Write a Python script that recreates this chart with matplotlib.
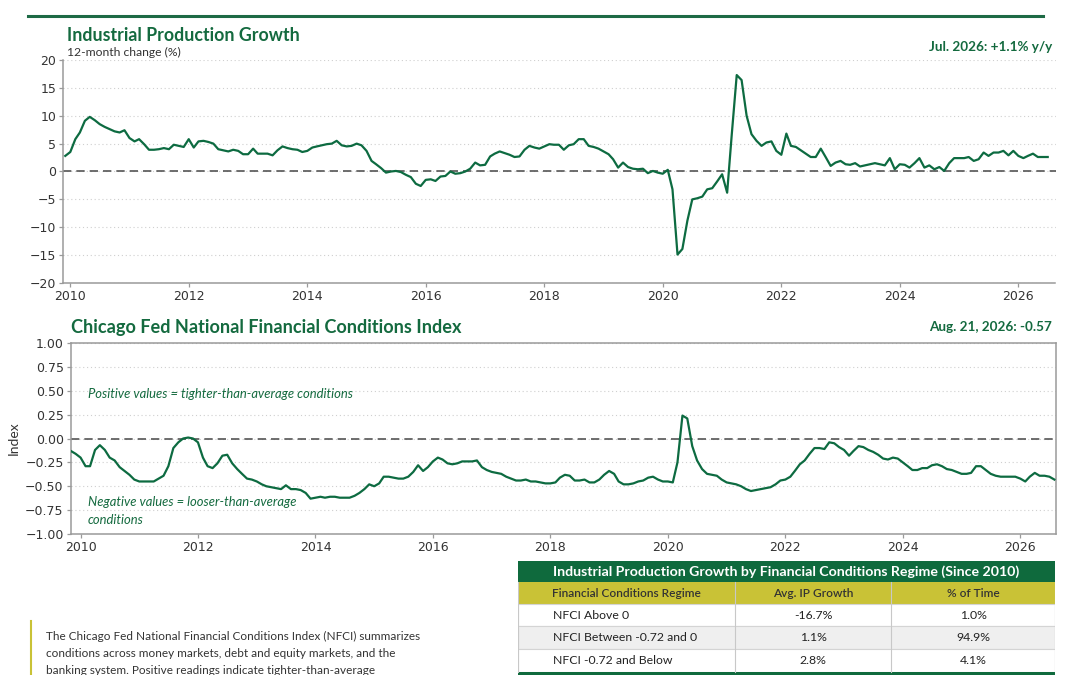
import numpy as np
import pandas as pd
import matplotlib
matplotlib.use("Agg")
import matplotlib.pyplot as plt
import matplotlib.dates as mdates
from matplotlib.lines import Line2D
from matplotlib.patches import Rectangle

# ---- data ----
# Industrial production, 12-month % change, monthly from Dec 2009
ip_start = "2009-12-01"
ip_values = [
    2.8,
    3.5, 5.8, 7.0, 9.1, 9.8, 9.2, 8.5, 8.0, 7.6, 7.2, 7.0, 7.4,            # 2010
    6.0, 5.4, 5.8, 4.9, 3.9, 3.9, 4.0, 4.2, 4.0, 4.8, 4.6, 4.4,            # 2011
    5.8, 4.3, 5.4, 5.5, 5.3, 5.0, 4.0, 3.8, 3.6, 3.9, 3.7, 3.1,            # 2012
    3.1, 4.1, 3.2, 3.2, 3.2, 2.9, 3.8, 4.5, 4.2, 4.0, 3.9, 3.5,            # 2013
    3.7, 4.3, 4.5, 4.7, 4.9, 5.0, 5.5, 4.7, 4.5, 4.6, 5.0, 4.7,            # 2014
    3.7, 1.9, 1.3, 0.6, -0.2, 0.0, 0.1, -0.1, -0.6, -1.0, -2.2, -2.6,      # 2015
    -1.5, -1.4, -1.7, -0.9, -0.8, 0.0, -0.4, -0.3, 0.0, 0.5, 1.6, 1.1,     # 2016
    1.2, 2.7, 3.2, 3.6, 3.3, 3.0, 2.6, 2.7, 3.9, 4.6, 4.3, 4.1,            # 2017
    4.5, 4.9, 4.8, 4.8, 3.9, 4.7, 4.9, 5.8, 5.8, 4.6, 4.4, 4.1,            # 2018
    3.6, 3.1, 2.2, 0.7, 1.6, 0.8, 0.5, 0.4, 0.5, -0.3, 0.1, -0.2,          # 2019
    -0.4, 0.3, -3.2, -14.9, -13.9, -8.8, -5.0, -4.8, -4.5, -3.2, -3.0, -1.8,  # 2020
    -0.5, -3.8, 6.5, 17.3, 16.4, 10.0, 6.7, 5.5, 4.6, 5.2, 5.4, 3.7,       # 2021
    3.0, 6.8, 4.6, 4.4, 3.8, 3.2, 2.6, 2.6, 4.1, 2.6, 1.0, 1.6,            # 2022
    1.9, 1.3, 1.2, 1.5, 0.9, 1.1, 1.3, 1.5, 1.3, 1.1, 2.4, 0.4,            # 2023
    1.3, 1.2, 0.7, 1.5, 2.4, 0.7, 1.1, 0.4, 0.8, 0.1, 1.5, 2.4,            # 2024
    2.4, 2.4, 2.6, 1.9, 2.2, 3.4, 2.8, 3.4, 3.4, 3.7, 2.9, 3.7,            # 2025
    2.8, 2.4, 2.8, 3.2, 2.6, 2.6, 2.6,                                     # 2026
]

# Chicago Fed NFCI, sampled monthly from Nov 2009
nfci_start = "2009-11-01"
nfci_values = [
    -0.13, -0.16,
    -0.20, -0.29, -0.29, -0.12, -0.07, -0.12, -0.20, -0.23, -0.30, -0.34, -0.38, -0.43,  # 2010
    -0.45, -0.45, -0.45, -0.45, -0.42, -0.39, -0.29, -0.10, -0.04, 0.00, 0.01, 0.00,     # 2011
    -0.04, -0.20, -0.29, -0.31, -0.26, -0.18, -0.17, -0.26, -0.32, -0.37, -0.42, -0.43,  # 2012
    -0.45, -0.48, -0.50, -0.51, -0.52, -0.53, -0.49, -0.53, -0.53, -0.54, -0.57, -0.63,  # 2013
    -0.62, -0.61, -0.62, -0.61, -0.61, -0.62, -0.62, -0.62, -0.60, -0.57, -0.53, -0.48,  # 2014
    -0.50, -0.47, -0.40, -0.40, -0.41, -0.42, -0.42, -0.40, -0.35, -0.28, -0.34, -0.30,  # 2015
    -0.24, -0.20, -0.22, -0.26, -0.27, -0.26, -0.24, -0.24, -0.24, -0.23, -0.30, -0.33,  # 2016
    -0.35, -0.36, -0.37, -0.40, -0.42, -0.44, -0.44, -0.43, -0.45, -0.45, -0.46, -0.47,  # 2017
    -0.47, -0.46, -0.41, -0.38, -0.39, -0.44, -0.44, -0.43, -0.46, -0.46, -0.43, -0.38,  # 2018
    -0.34, -0.37, -0.45, -0.48, -0.48, -0.47, -0.45, -0.44, -0.41, -0.40, -0.43, -0.45,  # 2019
    -0.45, -0.46, -0.25, 0.24, 0.21, -0.08, -0.23, -0.32, -0.37, -0.38, -0.39, -0.43,    # 2020
    -0.46, -0.47, -0.48, -0.50, -0.53, -0.55, -0.54, -0.53, -0.52, -0.51, -0.48, -0.44,  # 2021
    -0.43, -0.40, -0.34, -0.27, -0.23, -0.16, -0.10, -0.10, -0.11, -0.04, -0.05, -0.09,  # 2022
    -0.12, -0.18, -0.13, -0.08, -0.09, -0.12, -0.14, -0.17, -0.21, -0.22, -0.20, -0.21,  # 2023
    -0.25, -0.29, -0.33, -0.33, -0.31, -0.31, -0.28, -0.27, -0.29, -0.32, -0.33, -0.35,  # 2024
    -0.37, -0.37, -0.36, -0.29, -0.29, -0.33, -0.37, -0.39, -0.40, -0.40, -0.40, -0.40,  # 2025
    -0.42, -0.45, -0.40, -0.36, -0.39, -0.39, -0.40, -0.43,                              # 2026
]

ip_ticks = [-20, -15, -10, -5, 0, 5, 10, 15, 20]
nfci_ticks = [-1.0, -0.75, -0.5, -0.25, 0.0, 0.25, 0.5, 0.75, 1.0]
year_ticks = [str(y) for y in range(2010, 2027, 2)]

table_title = "Industrial Production Growth by Financial Conditions Regime (Since 2010)"
table_cols = ["Financial Conditions Regime", "Avg. IP Growth", "% of Time"]
table_regimes = ["NFCI Above 0", "NFCI Between -0.72 and 0", "NFCI -0.72 and Below"]
table_growth = ["-16.7%", "1.1%", "2.8%"]
table_share = ["1.0%", "94.9%", "4.1%"]

note_lines = [
    "The Chicago Fed National Financial Conditions Index (NFCI) summarizes",
    "conditions across money markets, debt and equity markets, and the",
    "banking system. Positive readings indicate tighter-than-average",
]

# ---- style ----
GREEN = "#0d6b41"
TITLE_GREEN = "#146a3f"
OLIVE = "#c9c236"
TEXT = "#333333"
SPINE = "#9a9a9a"
W, H = 1080, 675


def fx(x):
    return x / W


def fy(y):
    return 1 - y / H


fig = plt.figure(figsize=(10.8, 6.75), dpi=100)
fig.patch.set_facecolor("white")

# top rule
fig.add_artist(Line2D([fx(28), fx(1043)], [fy(15.5)] * 2, color="#1d6a45", lw=2.2))


def style_axis(ax, box):
    for side in ["top", "right"]:
        ax.spines[side].set_visible(box)
    for sp in ax.spines.values():
        sp.set_color(SPINE)
        sp.set_linewidth(1.1)
    ax.tick_params(axis="both", length=3, width=0.9, color=SPINE,
                   labelsize=9, labelcolor=TEXT, pad=2)
    ax.yaxis.grid(True, linestyle=(0, (1, 2.5)), color="#cfcfcf", lw=0.8)
    ax.set_axisbelow(True)
    ax.axhline(0, color="#555555", lw=1.2, ls=(0, (5, 3)), zorder=2)
    ax.set_xticks(pd.to_datetime([y + "-01-01" for y in year_ticks]))
    ax.xaxis.set_major_formatter(mdates.DateFormatter("%Y"))


# ---- Industrial production chart ----
ax1 = fig.add_axes([fx(63), fy(283), fx(1055.5 - 63), (283 - 60) / H])
ip_dates = pd.date_range(ip_start, periods=len(ip_values), freq="MS")
ax1.plot(ip_dates, ip_values, color=GREEN, lw=1.6, zorder=3)
style_axis(ax1, False)
ax1.set_ylim(-20, 20)
ax1.set_yticks(ip_ticks)
ax1.set_xlim(pd.Timestamp("2009-11-17"), pd.Timestamp("2026-08-18"))

fig.text(fx(67), fy(41), "Industrial Production Growth", family="Lato",
         weight="bold", size=12.8, color=TITLE_GREEN, va="baseline")
fig.text(fx(67), fy(55.5), "12-month change (%)", family="Lato", size=8.7,
         color=TEXT, va="baseline")
fig.text(fx(1052), fy(51), "Jul. 2026: +1.1% y/y", family="Lato",
         weight="bold", size=9.7, color=TITLE_GREEN, ha="right", va="baseline")

# ---- NFCI chart ----
ax2 = fig.add_axes([fx(70.6), fy(534), fx(1055.5 - 70.6), (534 - 343) / H])
nfci_dates = pd.date_range(nfci_start, periods=len(nfci_values), freq="MS")
ax2.plot(nfci_dates, nfci_values, color=GREEN, lw=1.6, zorder=3)
style_axis(ax2, True)
ax2.set_ylim(-1, 1)
ax2.set_yticks(nfci_ticks)
ax2.set_yticklabels([f"{t:.2f}".replace("-", "\u2212") for t in nfci_ticks])
ax2.set_xlim(pd.Timestamp("2009-10-31"), pd.Timestamp("2026-08-08"))
ax2.set_ylabel("Index", family="Lato", size=10, color=TEXT, labelpad=4)

fig.text(fx(71), fy(333), "Chicago Fed National Financial Conditions Index",
         family="Lato", weight="bold", size=13.1, color=TITLE_GREEN, va="baseline")
fig.text(fx(1052), fy(331), "Aug. 21, 2026: -0.57", family="Lato",
         weight="bold", size=9.7, color=TITLE_GREEN, ha="right", va="baseline")
fig.text(fx(88), fy(398), "Positive values = tighter-than-average conditions",
         family="Lato", style="italic", size=9.4, color=TITLE_GREEN, va="baseline")
fig.text(fx(88), fy(506.5), "Negative values = looser-than-average",
         family="Lato", style="italic", size=9.4, color=TITLE_GREEN, va="baseline")
fig.text(fx(88), fy(523.5), "conditions",
         family="Lato", style="italic", size=9.4, color=TITLE_GREEN, va="baseline")

# ---- note box (bottom left, cut by the frame) ----
fig.add_artist(Line2D([fx(31), fx(31)], [fy(621), fy(680)], color=OLIVE, lw=1.5))
for i, line in enumerate(note_lines):
    fig.text(fx(46), fy(640.5 + 16.8 * i), line, family="Lato", size=8.5,
             color=TEXT, va="baseline")

# ---- summary table ----
axt = fig.add_axes([fx(518), 0, fx(1055 - 518), (675 - 561) / H])
axt.set_xlim(0, 537)
axt.set_ylim(114, 0)
axt.axis("off")
col_edges = [0, 217, 373, 537]
row_edges = [0, 21.3, 43.3, 65.3, 88, 110.7, 125]

axt.add_patch(Rectangle((0, row_edges[0]), 537, row_edges[1], color="#0f6a3d", lw=0))
axt.add_patch(Rectangle((0, row_edges[1]), 537, row_edges[2] - row_edges[1], color=OLIVE, lw=0))
row_fill = ["white", "#efefef", "white"]
for i in range(3):
    axt.add_patch(Rectangle((0, row_edges[2 + i]), 537, row_edges[3 + i] - row_edges[2 + i],
                            facecolor=row_fill[i], edgecolor="#d4d4d4", lw=0.8))
axt.add_patch(Rectangle((0, row_edges[5]), 537, row_edges[6] - row_edges[5], color="#0f6a3d", lw=0))
for xe in col_edges[1:-1]:
    axt.plot([xe, xe], [row_edges[1], row_edges[5]], color="#c8c8c8", lw=0.8)
axt.plot([0, 0], [row_edges[1], row_edges[5]], color="#c8c8c8", lw=0.8)
axt.plot([537, 537], [row_edges[1], row_edges[5]], color="#c8c8c8", lw=0.8)

axt.text(268.5, (row_edges[0] + row_edges[1]) / 2, table_title, family="Lato",
         weight="bold", size=10.2, color="white", ha="center", va="center")
for j, name in enumerate(table_cols):
    axt.text((col_edges[j] + col_edges[j + 1]) / 2, (row_edges[1] + row_edges[2]) / 2,
             name, family="Lato", weight="semibold", size=8.6, color=TEXT,
             ha="center", va="center")
for i in range(3):
    yc = (row_edges[2 + i] + row_edges[3 + i]) / 2
    axt.text(35, yc, table_regimes[i], family="Lato", size=8.8, color="#222222",
             ha="left", va="center")
    axt.text((col_edges[1] + col_edges[2]) / 2, yc, table_growth[i], family="Lato",
             size=8.8, color="#222222", ha="center", va="center")
    axt.text((col_edges[2] + col_edges[3]) / 2, yc, table_share[i], family="Lato",
             size=8.8, color="#222222", ha="center", va="center")

fig.savefig("out.png", dpi=100, facecolor="white")
